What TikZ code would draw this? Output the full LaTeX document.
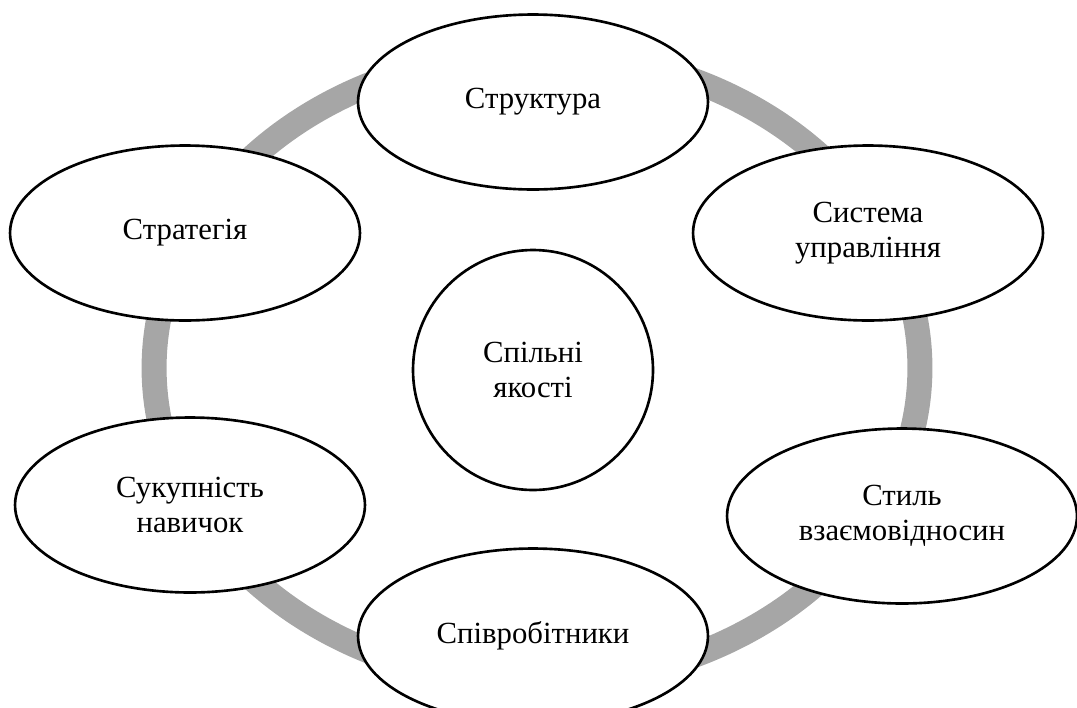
\documentclass[tikz,border=0pt]{standalone}
\usepackage{fontspec}
\setmainfont{Liberation Serif}
\usetikzlibrary{shapes.geometric}

\begin{document}
\begin{tikzpicture}[x=0.02cm, y=-0.02cm,
    part/.style={ellipse, draw, line width=1.5pt, fill=white, minimum width=7cm, minimum height=3.5cm, inner sep=0pt, align=center, font=\fontsize{17.5}{20}\selectfont},
    core/.style={circle, draw, line width=1.5pt, fill=white, minimum size=4.8cm, inner sep=0pt, align=center, font=\fontsize{17.5}{20}\selectfont}]
\useasboundingbox (0,0) rectangle (1077,707);

% Grey ring behind the elements
\draw[line width=0.5cm, gray!70] (537,368) ellipse [x radius=7.66cm, y radius=6.3cm];

% Six elements around the ring
\foreach \name/\x/\y/\txt in {struct/533/102/Структура, system/868/233/{Система\\управління}, style/902/516/{Стиль\\взаємовідносин}, staff/533/636/Співробітники, skills/190/505/{Сукупність\\навичок}, strat/185/233/Стратегія} {
    \node[part] (\name) at (\x,\y) {\txt};
}

% Centre
\node[core] (shared) at (533,370) {Спільні\\якості};
\end{tikzpicture}
\end{document}
